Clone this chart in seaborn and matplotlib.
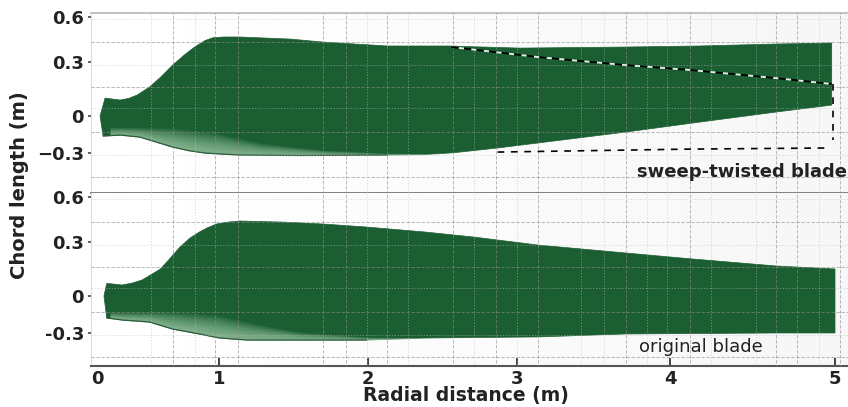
#!/usr/bin/env python3
import numpy as np
import pandas as pd
import matplotlib
matplotlib.use('Agg')
import matplotlib.pyplot as plt
import seaborn as sns

# sweep-twisted blade outline
sweep_upper_x = [0.025, 0.066, 0.12, 0.19, 0.26, 0.33, 0.43, 0.52, 0.62, 0.72, 0.80, 0.885, 0.95, 1.03, 1.14, 1.48, 1.70, 2.13, 2.54, 3.02, 3.71, 4.18, 4.64, 4.98]
sweep_upper_y = [0.0, 0.10, 0.095, 0.089, 0.098, 0.117, 0.161, 0.215, 0.283, 0.35, 0.40, 0.443, 0.462, 0.467, 0.467, 0.453, 0.433, 0.407, 0.407, 0.393, 0.40, 0.407, 0.42, 0.427]
sweep_lower_x = [0.05, 0.19, 0.35, 0.50, 0.62, 0.75, 0.885, 1.14, 1.54, 2.13, 2.37, 2.57, 2.87, 3.71, 4.18, 4.64, 4.98]
sweep_lower_y = [-0.162, -0.154, -0.17, -0.215, -0.251, -0.28, -0.30, -0.316, -0.32, -0.316, -0.312, -0.298, -0.259, -0.13, -0.049, 0.022, 0.061]
sweep_shade_x = [0.107, 0.62, 0.975, 1.28, 1.70, 2.13, 2.48]
sweep_shade_y = [-0.089, -0.097, -0.138, -0.219, -0.276, -0.30, -0.308]

# original blade outline, also drawn dashed over the swept one
orig_dash_x = [2.56, 3.14, 3.71, 4.12, 4.64, 4.98]
orig_dash_y = [0.40, 0.333, 0.283, 0.256, 0.211, 0.178]
low_dash_x = [2.87, 3.71, 4.12, 4.95]
low_dash_y = [-0.292, -0.276, -0.268, -0.259]
end_dash_x = [4.99, 4.99]
end_dash_y = [0.178, -0.195]

orig_upper_x = [0.057, 0.08, 0.14, 0.205, 0.29, 0.37, 0.52, 0.60, 0.68, 0.76, 0.84, 0.91, 0.98, 1.06, 1.14, 1.43, 1.70, 1.99, 2.38, 2.71, 3.14, 3.71, 4.12, 4.64, 5.0]
orig_upper_y = [0.0, 0.07, 0.066, 0.061, 0.072, 0.089, 0.15, 0.21, 0.272, 0.325, 0.367, 0.397, 0.42, 0.433, 0.44, 0.433, 0.42, 0.40, 0.367, 0.333, 0.283, 0.239, 0.207, 0.167, 0.15]
orig_lower_x = [0.08, 0.21, 0.43, 0.62, 0.84, 1.0, 1.19, 1.99, 2.38, 3.14, 3.71, 4.64, 5.0]
orig_lower_y = [-0.178, -0.195, -0.211, -0.268, -0.308, -0.34, -0.357, -0.357, -0.341, -0.332, -0.308, -0.30, -0.30]
orig_shade_x = [0.107, 0.62, 0.98, 1.28, 1.54, 1.99, 2.38]
orig_shade_y = [-0.13, -0.13, -0.154, -0.235, -0.292, -0.332, -0.34]

x_ticks = [0, 1, 2, 3, 4, 5]
y_ticks = [-0.3, 0, 0.3, 0.6]
grid_major_x = [0.62, 0.97, 1.13, 1.70, 1.85, 2.13, 2.57, 2.86, 3.14, 3.71, 4.12, 4.64, 4.77, 5.03]
grid_minor_x = [0.44, 0.80, 1.99, 2.27, 2.71, 3.0, 3.42, 3.57, 3.85, 3.98, 4.25, 4.52, 4.90]
grid_major_y = [0.433, 0.161, -0.13, -0.495]
grid_minor_y = [0.587, 0.283, 0.044, -0.316]

GREEN = '#1b5e32'
W, H = 848, 407

# the printed axes are not quite even, so ticks are pinned where they sit
x_nodes = np.array([-0.049, 0, 1, 2, 3, 4, 5, 5.079])
x_pix = np.array([91, 97, 219, 368, 517, 670, 835, 848], dtype=float)
y_nodes = np.array([-1, -0.3, 0, 0.3, 0.6, 1])
y_pix = np.array([-239.3, -153, -116, -62, -17, 43])


def setup_axes(ax, ylim, labels):
    ax.set_xscale('function', functions=(lambda v: np.interp(v, x_nodes, x_pix),
                                         lambda v: np.interp(v, x_pix, x_nodes)))
    ax.set_yscale('function', functions=(lambda v: np.interp(v, y_nodes, y_pix),
                                         lambda v: np.interp(v, y_pix, y_nodes)))
    ax.set_xlim(x_nodes[0], x_nodes[-1])
    ax.set_ylim(*ylim)
    ax.set_yticks(y_ticks)
    ax.set_yticklabels(labels, fontsize=13, fontweight='bold', color='#222222')
    ax.tick_params(axis='y', length=2, width=1.2, pad=3, color='#444444', left=True)
    ax.minorticks_off()
    ax.set_xlabel('')
    ax.set_ylabel('')
    for side in ['top', 'right', 'bottom']:
        ax.spines[side].set_visible(False)
    ax.spines['left'].set_color('#dddddd')
    ax.spines['left'].set_linewidth(0.8)


def draw_blade(ax, up_x, up_y, lo_x, lo_y, sh_x, sh_y):
    # soft background, a bit greyer to the right
    ax.imshow(np.linspace(1.0, 0.965, 64).reshape(1, -1), cmap='gray', vmin=0, vmax=1,
              extent=(0, 1, 0, 1), transform=ax.transAxes, aspect='auto', zorder=0)
    ax.fill(up_x + lo_x[::-1], up_y + lo_y[::-1], color=GREEN, lw=0.5, zorder=2)

    # light band along the lower edge near the root
    band_x = np.array(sorted(set(sh_x) | {v for v in lo_x if sh_x[0] <= v <= sh_x[-1]}))
    band_low = np.interp(band_x, lo_x, lo_y)
    band_high = np.interp(band_x, sh_x, sh_y)
    for t in np.linspace(0, 0.96, 16):
        band_top = band_low + (band_high - band_low) * (1 - t)
        ax.fill_between(band_x, band_low, band_top, color='#b5dcbc', alpha=0.075, lw=0, zorder=3)

    edge = pd.DataFrame({'x': lo_x, 'y': lo_y})
    sns.lineplot(data=edge[edge.x < 2.2], x='x', y='y', ax=ax, color='#2c5a3c', lw=0.9,
                 estimator=None, sort=False, zorder=4)

    ax.vlines(grid_major_x, -1, 1, color='#8a8a8a', lw=0.6, ls=(0, (4, 2)), alpha=0.7, zorder=5)
    ax.hlines(grid_major_y, -1, 6, color='#8a8a8a', lw=0.6, ls=(0, (4, 2)), alpha=0.7, zorder=5)
    ax.vlines(grid_minor_x, -1, 1, color='#bdbdbd', lw=0.6, ls=(0, (1.5, 2)), alpha=0.6, zorder=5)
    ax.hlines(grid_minor_y, -1, 6, color='#bdbdbd', lw=0.6, ls=(0, (1.5, 2)), alpha=0.6, zorder=5)


sns.set_theme(style='white')
plt.rcParams['font.family'] = ['DejaVu Sans']

fig = plt.figure(figsize=(W / 100, H / 100), dpi=100)
ax_top = fig.add_axes([91 / W, 1 - 193 / H, (W - 91) / W, 180 / H])
ax_bot = fig.add_axes([91 / W, 1 - 366 / H, (W - 91) / W, 173 / H])

draw_blade(ax_top, sweep_upper_x, sweep_upper_y, sweep_lower_x, sweep_lower_y, sweep_shade_x, sweep_shade_y)
draw_blade(ax_bot, orig_upper_x, orig_upper_y, orig_lower_x, orig_lower_y, orig_shade_x, orig_shade_y)

# outline of the original blade on the upper panel
sns.lineplot(x=orig_dash_x, y=orig_dash_y, ax=ax_top, color='black', lw=1.3, linestyle=(0, (4, 3)),
             gapcolor='#e4f2e4', estimator=None, sort=False, zorder=6)
sns.lineplot(x=low_dash_x, y=low_dash_y, ax=ax_top, color='black', lw=1.2, linestyle=(0, (4, 4)),
             estimator=None, sort=False, zorder=6)
sns.lineplot(x=end_dash_x, y=end_dash_y, ax=ax_top, color='black', lw=1.2, linestyle=(0, (4, 4)),
             estimator=None, sort=False, zorder=6)

setup_axes(ax_top, (-0.624, 0.627), ['\u22120.3', '0', '0.3', '0.6'])
setup_axes(ax_bot, (-0.568, 0.627), ['-0.3', '0', '0.3', '0.6'])

ax_top.set_xticks([])
ax_top.spines['top'].set_visible(True)
ax_top.spines['top'].set_color('#c4c4c4')
ax_top.spines['top'].set_linewidth(1.5)
ax_top.spines['bottom'].set_visible(True)
ax_top.spines['bottom'].set_color('#808080')
ax_top.spines['bottom'].set_linewidth(1.4)

ax_bot.set_xticks(x_ticks)
ax_bot.set_xticklabels([str(v) for v in x_ticks], fontsize=13, fontweight='bold', color='#222222')
ax_bot.tick_params(axis='x', direction='in', length=6, width=1.3, pad=3, color='#333333', bottom=True)
ax_bot.xaxis.get_major_ticks()[0].tick1line.set_visible(False)
ax_bot.spines['bottom'].set_visible(True)
ax_bot.spines['bottom'].set_color('#555555')
ax_bot.spines['bottom'].set_linewidth(1.5)

ax_top.text(0.999, 0.115, 'sweep-twisted blade', transform=ax_top.transAxes, ha='right', va='center',
            fontsize=13, fontweight='bold', color='#222222', zorder=7)
ax_bot.text(0.806, 0.11, 'original blade', transform=ax_bot.transAxes, ha='center', va='center',
            fontsize=13, color='#222222', zorder=7)

fig.text(466 / W, 1 - 396 / H, 'Radial distance (m)', ha='center', va='center',
         fontsize=13.5, fontweight='bold', color='#222222')
fig.text(20 / W, 1 - 185 / H, 'Chord length (m)', ha='center', va='center', rotation=90,
         fontsize=14, fontweight='bold', color='#222222')

fig.savefig('out.png', dpi=100)
